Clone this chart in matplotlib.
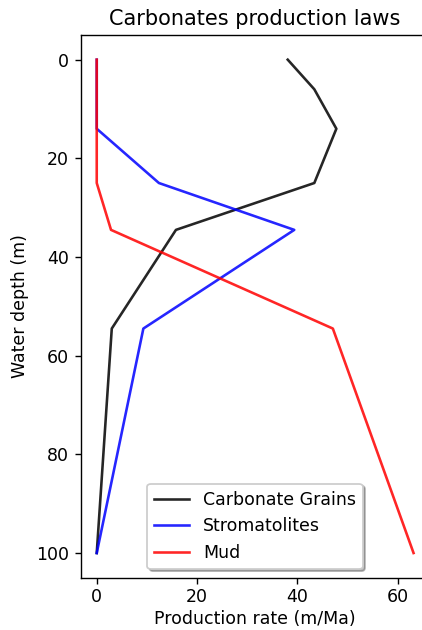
import matplotlib
matplotlib.use("Agg")
import matplotlib.pyplot as plt

# Production laws: rate (m/Ma) as a function of water depth (m)
depth = [0, 6, 14, 25, 34.5, 54.5, 100]
grains_depth = depth
grains_rate = [38.1, 43.4, 47.8, 43.4, 15.8, 3.0, 0.0]

strom_depth = [0, 14, 25, 34.5, 54.5, 100]
strom_rate = [0.0, 0.0, 12.4, 39.4, 9.3, 0.0]

mud_depth = [0, 25, 34.5, 54.5, 100]
mud_rate = [0.0, 0.0, 2.85, 47.1, 63.2]

labels = ["Carbonate Grains", "Stromatolites", "Mud"]

DPI = 125
W, H = 422, 630
fig = plt.figure(figsize=(W / DPI, H / DPI), dpi=DPI)
left, right, top, bottom = 80.9, 429.4, 35.0, 577.7
ax = fig.add_axes([left / W, (H - bottom) / H, (right - left) / W, (bottom - top) / H])

ax.plot(grains_rate, grains_depth, color="black", alpha=0.85, label=labels[0])
ax.plot(strom_rate, strom_depth, color="blue", alpha=0.85, label=labels[1])
ax.plot(mud_rate, mud_depth, color="red", alpha=0.85, label=labels[2])

ax.invert_yaxis()
ax.set_xticks([0, 20, 40, 60])
ax.set_yticks([0, 20, 40, 60, 80, 100])
ax.tick_params(axis="x", pad=2.5)
ax.set_xlabel("Production rate (m/Ma)", labelpad=2)
ax.set_ylabel("Water depth (m)")
ax.set_title("Carbonates production laws")
ax.legend(loc="lower center", shadow={"ox": 1.2, "oy": -1.2, "alpha": 0.4})

fig.savefig("out.png", dpi=DPI)
